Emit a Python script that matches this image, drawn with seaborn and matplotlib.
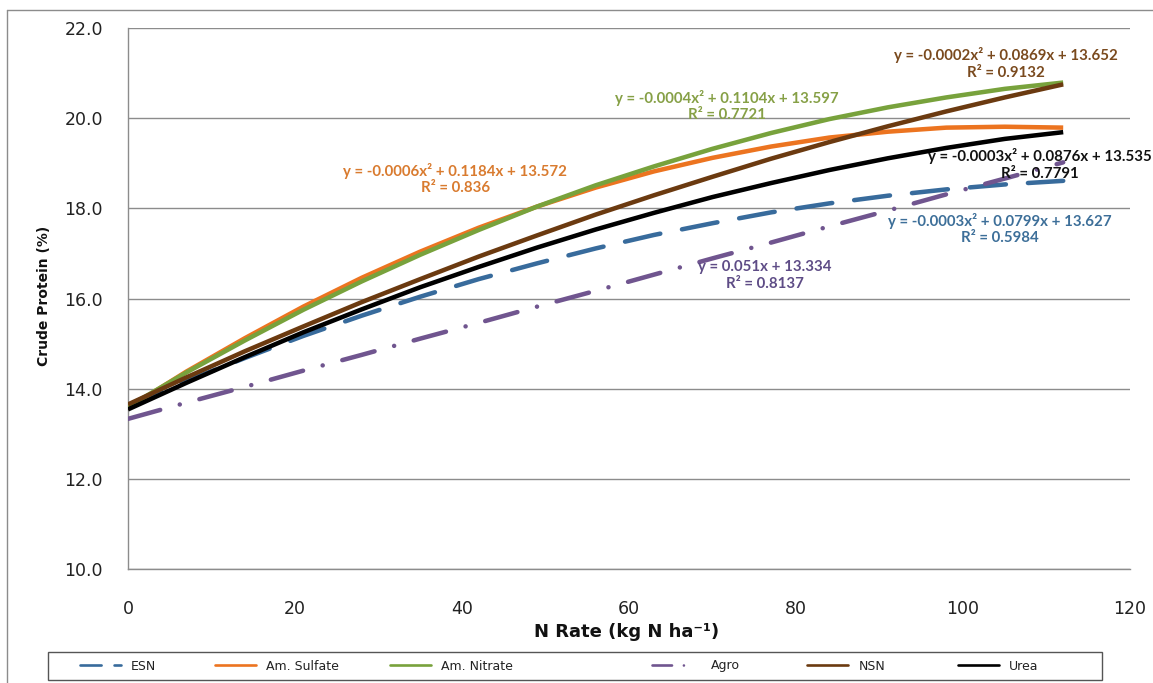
import matplotlib
matplotlib.use("Agg")
import matplotlib.pyplot as plt
from matplotlib.lines import Line2D
from matplotlib.patches import Rectangle
import seaborn as sns
import pandas as pd

# ---------------- data ----------------
n_rate = [0, 7, 14, 21, 28, 35, 42, 49, 56, 63, 70, 77, 84, 91, 98, 105, 112]
esn = [13.63, 14.17, 14.68, 15.17, 15.62, 16.04, 16.43, 16.78, 17.11, 17.41, 17.67, 17.91, 18.11, 18.28, 18.42, 18.53, 18.61]
am_sulfate = [13.57, 14.38, 15.12, 15.82, 16.46, 17.04, 17.57, 18.04, 18.46, 18.82, 19.12, 19.37, 19.57, 19.70, 19.79, 19.81, 19.79]
am_nitrate = [13.60, 14.36, 15.07, 15.75, 16.38, 16.97, 17.52, 18.04, 18.51, 18.93, 19.32, 19.67, 19.98, 20.24, 20.46, 20.65, 20.79]
agro = [13.33, 13.69, 14.04, 14.40, 14.75, 15.11, 15.46, 15.82, 16.17, 16.53, 16.89, 17.24, 17.60, 17.95, 18.31, 18.66, 19.02]
nsn = [13.65, 14.25, 14.83, 15.38, 15.92, 16.43, 16.93, 17.40, 17.86, 18.29, 18.70, 19.10, 19.47, 19.82, 20.15, 20.46, 20.75]
urea = [13.54, 14.13, 14.70, 15.25, 15.76, 16.25, 16.70, 17.13, 17.53, 17.90, 18.25, 18.56, 18.85, 19.11, 19.34, 19.54, 19.69]

series_names = ["ESN", "Am. Sulfate", "Am. Nitrate", "Agro", "NSN", "Urea"]
series_values = [esn, am_sulfate, am_nitrate, agro, nsn, urea]
line_colors = ["#386B9C", "#EC7420", "#78A23C", "#70558F", "#6B3A10", "#000000"]
text_colors = ["#3D6F99", "#D97B2F", "#86A046", "#5E4C86", "#7A4A1E", "#111111"]
line_styles = [(0, (8.0, 4.9)), "-", "-", (0, (7.4, 4.5, 0.01, 4.5)), "-", "-"]

equations = [
    "y = -0.0003x² + 0.0799x + 13.627\nR² = 0.5984",
    "y = -0.0006x² + 0.1184x + 13.572\nR² = 0.836",
    "y = -0.0004x² + 0.1104x + 13.597\nR² = 0.7721",
    "y = 0.051x + 13.334\nR² = 0.8137",
    "y = -0.0002x² + 0.0869x + 13.652\nR² = 0.9132",
    "y = -0.0003x² + 0.0876x + 13.535\nR² = 0.7791",
]
eq_pos = [(104.4, 17.54), (39.2, 18.65), (71.7, 20.27), (76.3, 16.51), (105.1, 21.21), (109.2, 18.97)]

x_ticks = [0, 20, 40, 60, 80, 100, 120]
y_ticks = [10.0, 12.0, 14.0, 16.0, 18.0, 20.0, 22.0]

# ---------------- style ----------------
sns.set_style("white")
plt.rcParams["font.family"] = ["DejaVu Sans"]

W, H = 1153, 683
fig = plt.figure(figsize=(W / 100, H / 100), dpi=100)
ax = fig.add_axes([128 / W, 1 - 569 / H, (1130 - 128) / W, (569 - 28) / H])

df = pd.DataFrame({"N": n_rate})
for name, vals, col, ls in zip(series_names, series_values, line_colors, line_styles):
    df[name] = vals
    sns.lineplot(data=df, x="N", y=name, ax=ax, color=col, linewidth=3.25,
                 linestyle=ls, dash_capstyle="round", solid_capstyle="butt",
                 legend=False, zorder=3)

ax.set_xlim(0, 120)
ax.set_ylim(10, 22)
ax.set_xticks(x_ticks)
ax.set_yticks(y_ticks)
ax.set_xticklabels([str(t) for t in x_ticks])
ax.set_yticklabels([f"{t:.1f}" for t in y_ticks])
ax.tick_params(axis="x", direction="out", length=5, width=1, color="#8C8C8C",
               pad=17, labelsize=12.5, labelcolor="#222222")
ax.tick_params(axis="y", direction="out", length=5, width=1, color="#8C8C8C",
               pad=13, labelsize=12.5, labelcolor="#222222")
ax.grid(axis="y", color="#8C8C8C", linewidth=1.0)
ax.grid(axis="x", visible=False)
for s in ["top", "right"]:
    ax.spines[s].set_visible(False)
for s in ["left", "bottom"]:
    ax.spines[s].set_color("#8C8C8C")
    ax.spines[s].set_linewidth(1.0)
ax.set_xlabel("")
ax.set_ylabel("")

# equation annotations
for txt, (tx, ty), tc in zip(equations, eq_pos, text_colors):
    ax.text(tx, ty, txt, ha="center", va="center", multialignment="center",
            color=tc, fontsize=10.8, fontweight="bold", family=["Lato", "DejaVu Sans"],
            linespacing=1.25, zorder=4, clip_on=False)

# axis labels
fig.text(44 / W, 1 - 296 / H, "Crude Protein (%)", rotation=90, ha="center", va="center",
         fontsize=10, fontweight="bold", color="#111111")
fig.text(627 / W, 1 - 632 / H, "N Rate (kg N ha⁻¹)", ha="center", va="center",
         fontsize=13, fontweight="bold", color="#111111")

# outer chart border
fig.add_artist(Line2D([7 / W, 1.0], [1 - 10 / H, 1 - 10 / H], transform=fig.transFigure,
                      color="#8C8C8C", linewidth=1.0))
fig.add_artist(Line2D([7 / W, 7 / W], [1 - 10 / H, 0.0], transform=fig.transFigure,
                      color="#8C8C8C", linewidth=1.0))

# legend box and entries
fig.add_artist(Rectangle((48 / W, 1 - 680 / H), (1102 - 48) / W, 28 / H,
                         transform=fig.transFigure, fill=False, edgecolor="#555555",
                         linewidth=1.0))
handle_x = [80, 215, 390, 652, 807, 958]
for name, col, ls, hx in zip(series_names, line_colors, line_styles, handle_x):
    h = Line2D([], [], color=col, linewidth=1.9, linestyle=ls, dash_capstyle="round")
    fig.legend(handles=[h], labels=[name], loc="center left",
               bbox_to_anchor=(hx / W, 1 - 666 / H), frameon=False,
               borderpad=0, borderaxespad=0, handlelength=3.3,
               handletextpad=(1.4 if name == "Agro" else 0.8),
               fontsize=9, labelcolor="#222222")

fig.savefig("out.png", dpi=100)
